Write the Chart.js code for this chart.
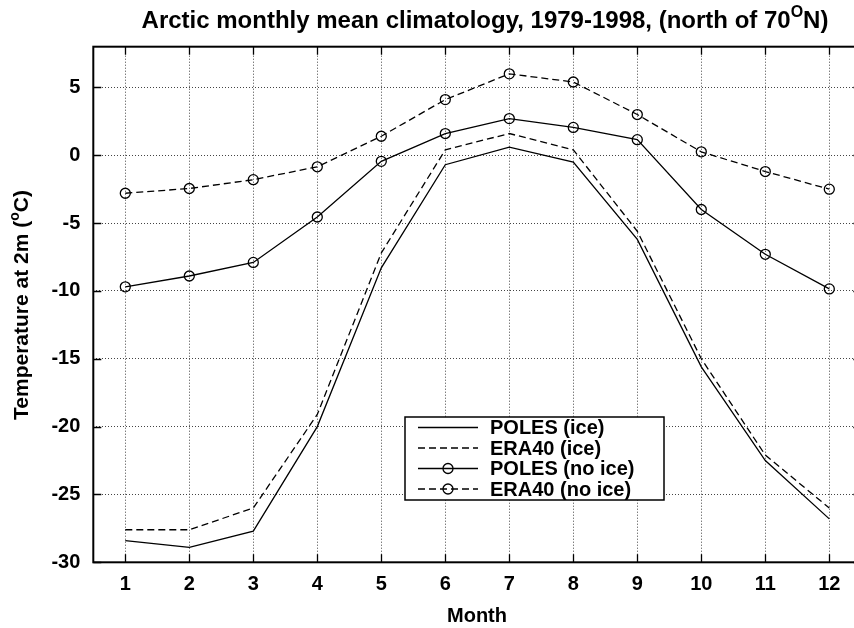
<!DOCTYPE html>
<html>
<head>
<meta charset="utf-8">
<title>Arctic monthly mean climatology</title>
<script src="https://cdn.jsdelivr.net/npm/chart.js@4.4.0/dist/chart.umd.min.js"></script>
<style>
    html, body { margin: 0; padding: 0; background: #fff; overflow: hidden; }
    #wrap { position: relative; width: 900px; height: 628px; }
</style>
</head>
<body>
<div id="wrap"><canvas id="chart"></canvas></div>
<script>
// Données
const months = [1, 2, 3, 4, 5, 6, 7, 8, 9, 10, 11, 12];
const yTicks = [-30, -25, -20, -15, -10, -5, 0, 5];
const polesIce = [-28.4, -28.9, -27.7, -20.0, -8.3, -0.7, 0.6, -0.5, -6.2, -15.6, -22.5, -26.8];
const era40Ice = [-27.6, -27.6, -26.0, -19.1, -7.2, 0.4, 1.6, 0.4, -5.6, -15.0, -22.1, -26.0];
const polesNoIce = [-9.7, -8.9, -7.9, -4.55, -0.45, 1.6, 2.7, 2.05, 1.15, -4.0, -7.3, -9.85];
const era40NoIce = [-2.8, -2.45, -1.8, -0.85, 1.4, 4.1, 6.0, 5.4, 3.0, 0.25, -1.2, -2.5];

const FONT = '"Liberation Sans", Arial, Helvetica, sans-serif';
const DASH = [7, 4];

function toPoints(values) {
    return months.map((m, i) => ({ x: m, y: values[i] }));
}

// Texte avec exposant (°)
function drawRich(ctx, parts, x, y, size) {
    let total = 0;
    parts.forEach(p => {
        ctx.font = 'bold ' + (p.sup ? Math.round(size * 0.65) : size) + 'px ' + FONT;
        p.w = ctx.measureText(p.t).width;
        total += p.w;
    });
    let cx = x - total / 2;
    parts.forEach(p => {
        ctx.font = 'bold ' + (p.sup ? Math.round(size * 0.65) : size) + 'px ' + FONT;
        ctx.fillText(p.t, cx, p.sup ? y - size * 0.45 : y);
        cx += p.w;
    });
}

const framePlugin = {
    id: 'frame',
    afterDatasetsDraw(chart) {
        const ctx = chart.ctx;
        const a = chart.chartArea;
        const xs = chart.scales.x, ys = chart.scales.y;
        ctx.save();
        ctx.strokeStyle = '#000';
        ctx.lineWidth = 1.3;
        ctx.beginPath();
        months.forEach(m => {
            const px = Math.round(xs.getPixelForValue(m)) + 0.5;
            ctx.moveTo(px, a.bottom); ctx.lineTo(px, a.bottom - 8);
            ctx.moveTo(px, a.top); ctx.lineTo(px, a.top + 8);
        });
        yTicks.forEach(v => {
            const py = Math.round(ys.getPixelForValue(v)) + 0.5;
            ctx.moveTo(a.left, py); ctx.lineTo(a.left + 8, py);
            ctx.moveTo(a.right, py); ctx.lineTo(a.right - 8, py);
        });
        ctx.stroke();
        ctx.lineWidth = 2;
        ctx.strokeRect(a.left, a.top, a.right - a.left, a.bottom - a.top);
        ctx.restore();
    },
    afterDraw(chart) {
        const ctx = chart.ctx;
        ctx.save();
        ctx.fillStyle = '#000';
        ctx.textAlign = 'left';
        ctx.textBaseline = 'alphabetic';

        // Titre
        drawRich(ctx, [
            { t: 'Arctic monthly mean climatology, 1979-1998, (north of 70' },
            { t: 'O', sup: true },
            { t: 'N)' }
        ], 485, 28, 24);

        // Titre axe X
        drawRich(ctx, [{ t: 'Month' }], 477, 622, 20);

        // Titre axe Y
        ctx.save();
        ctx.translate(28, 305);
        ctx.rotate(-Math.PI / 2);
        drawRich(ctx, [
            { t: 'Temperature at 2m (' },
            { t: 'o', sup: true },
            { t: 'C)' }
        ], 0, 0, 21);
        ctx.restore();

        // Légende
        const bx = 405, by = 417, bw = 259, bh = 83;
        ctx.fillStyle = '#fff';
        ctx.fillRect(bx, by, bw, bh);
        ctx.strokeStyle = '#000';
        ctx.lineWidth = 1.5;
        ctx.strokeRect(bx, by, bw, bh);
        const rows = [427.5, 448, 468.5, 489];
        chart.data.datasets.forEach((ds, i) => {
            const y = rows[i];
            ctx.save();
            ctx.strokeStyle = '#000';
            ctx.lineWidth = 1.3;
            ctx.setLineDash(ds.borderDash || []);
            ctx.beginPath();
            ctx.moveTo(418, y); ctx.lineTo(478, y);
            ctx.stroke();
            if (ds.pointRadius > 0) {
                ctx.setLineDash([]);
                ctx.beginPath();
                ctx.arc(448, y, 5, 0, Math.PI * 2);
                ctx.stroke();
            }
            ctx.restore();
            ctx.fillStyle = '#000';
            ctx.font = 'bold 20px ' + FONT;
            ctx.textBaseline = 'middle';
            ctx.fillText(ds.label, 490, y + 1);
        });
        ctx.restore();
    }
};

function lineDataset(label, values, dashed, markers) {
    return {
        label: label,
        data: toPoints(values),
        borderColor: '#000',
        borderWidth: 1.3,
        borderDash: dashed ? DASH : [],
        pointRadius: markers ? 5 : 0,
        pointHoverRadius: markers ? 5 : 0,
        pointStyle: 'circle',
        pointBorderColor: '#000',
        pointBackgroundColor: 'rgba(0,0,0,0)',
        pointBorderWidth: 1.3,
        tension: 0,
        fill: false
    };
}

const ctx = document.getElementById('chart').getContext('2d');
new Chart(ctx, {
    type: 'line',
    data: {
        datasets: [
            lineDataset('POLES (ice)', polesIce, false, false),
            lineDataset('ERA40 (ice)', era40Ice, true, false),
            lineDataset('POLES (no ice)', polesNoIce, false, true),
            lineDataset('ERA40 (no ice)', era40NoIce, true, true)
        ]
    },
    options: {
        responsive: true,
        maintainAspectRatio: false,
        animation: false,
        layout: { padding: { top: 46.7, right: 38.7, left: 0, bottom: 0 } },
        plugins: {
            legend: { display: false },
            title: { display: false },
            tooltip: { enabled: false }
        },
        scales: {
            x: {
                type: 'linear',
                min: 0.5,
                max: 12.5,
                afterBuildTicks: axis => { axis.ticks = months.map(v => ({ value: v })); },
                afterFit: axis => { axis.height = 628 - 562.3; },
                grid: { color: '#444', lineWidth: 1, drawTicks: false },
                border: { display: false, dash: [1, 2] },
                ticks: {
                    color: '#000',
                    font: { family: FONT, size: 20, weight: 'bold' },
                    padding: 10,
                    maxRotation: 0,
                    autoSkip: false
                }
            },
            y: {
                min: -30,
                max: 8,
                afterBuildTicks: axis => { axis.ticks = yTicks.map(v => ({ value: v })); },
                afterFit: axis => { axis.width = 93.3; },
                grid: { color: '#444', lineWidth: 1, drawTicks: false },
                border: { display: false, dash: [1, 2] },
                ticks: {
                    color: '#000',
                    font: { family: FONT, size: 20, weight: 'bold' },
                    padding: 13
                }
            }
        }
    },
    plugins: [framePlugin]
});
</script>
</body>
</html>
